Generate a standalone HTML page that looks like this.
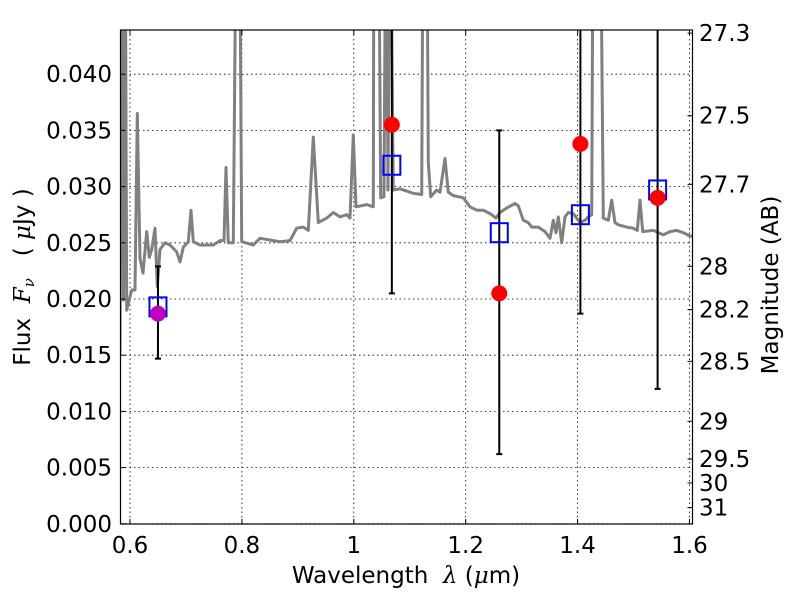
<!DOCTYPE html>
<html><head><meta charset="utf-8"><style>
body{margin:0;background:#fff;}
svg{display:block;font-family:"DejaVu Sans","Liberation Sans",sans-serif;}
text{white-space:pre;}
</style></head><body>
<svg id="chart" width="800" height="600" viewBox="0 0 800 600">
<defs><clipPath id="clip"><rect x="120.5" y="30" width="572" height="494"/></clipPath></defs>
<rect width="800" height="600" fill="#fff"/>
<g id="grid"></g>
<g id="spec" clip-path="url(#clip)"></g>
<g id="marks" clip-path="url(#clip)"></g>
<rect x="120.5" y="30" width="572" height="494" fill="none" stroke="#000" stroke-width="1.2"/>
<g id="axes"></g>
<text x="406" y="583" font-size="23" text-anchor="middle" xml:space="preserve">Wavelength  <tspan font-style="italic" font-family="'DejaVu Serif',serif">λ</tspan> (<tspan font-style="italic" font-family="'DejaVu Serif',serif">μ</tspan>m)</text>
<text transform="translate(30,277) rotate(-90)" font-size="23" text-anchor="middle" xml:space="preserve">Flux  <tspan font-style="italic" font-family="'DejaVu Serif',serif">F<tspan font-size="15" dy="4">ν</tspan></tspan><tspan dy="-4">   ( </tspan><tspan font-style="italic" font-family="'DejaVu Serif',serif">μ</tspan>Jy )</text>
<text transform="translate(778,285) rotate(-90)" font-size="23" text-anchor="middle">Magnitude (AB)</text>
</svg>
<script>
const specWave=[0.5821,0.5857,0.5884,0.5911,0.5941,0.6030,0.6089,0.6130,0.6179,0.6232,0.6298,0.6345,0.6388,0.6447,0.6488,0.6536,0.6626,0.6715,0.6835,0.6894,0.6953,0.7042,0.7090,0.7131,0.7251,0.7489,0.7609,0.7680,0.7716,0.7757,0.7846,0.7907,0.7953,0.7996,0.8204,0.8323,0.8561,0.8681,0.8860,0.8979,0.9097,0.9187,0.9276,0.9366,0.9516,0.9634,0.9753,0.9873,0.9932,0.9991,1.0040,1.0231,1.0349,1.0361,1.0438,1.0481,1.0540,1.0576,1.0612,1.0647,1.0706,1.0826,1.1063,1.1213,1.1242,1.1302,1.1331,1.1374,1.1481,1.1540,1.1630,1.1689,1.1778,1.1957,1.2077,1.2196,1.2315,1.2434,1.2541,1.2613,1.2733,1.2881,1.2940,1.3029,1.3119,1.3179,1.3298,1.3418,1.3507,1.3566,1.3614,1.3655,1.3716,1.3775,1.3834,1.3923,1.4043,1.4132,1.4191,1.4252,1.4281,1.4400,1.4459,1.4549,1.4609,1.4668,1.4727,1.4877,1.4996,1.5067,1.5115,1.5163,1.5353,1.5532,1.5651,1.5771,1.5890,1.6009,1.6063];
const specFlux=[0.0150,0.06,0.0199,0.06,0.0190,0.0208,0.0208,0.0365,0.0236,0.0223,0.0260,0.0237,0.0244,0.0263,0.0211,0.0244,0.0250,0.0248,0.0242,0.0233,0.0246,0.0251,0.0279,0.0251,0.0248,0.0248,0.0252,0.0252,0.0317,0.0250,0.0250,0.06,0.06,0.0251,0.0248,0.0254,0.0252,0.0251,0.0252,0.0263,0.0264,0.0261,0.0344,0.0268,0.0272,0.0277,0.0273,0.0275,0.0272,0.0346,0.0282,0.0284,0.0282,0.06,0.06,0.0290,0.0291,0.06,0.0297,0.06,0.0297,0.0298,0.0294,0.0293,0.06,0.06,0.0321,0.0291,0.0297,0.0295,0.0325,0.0295,0.0292,0.0290,0.0282,0.0279,0.0279,0.0276,0.0272,0.0277,0.0281,0.0285,0.0283,0.0270,0.0268,0.0264,0.0264,0.0260,0.0254,0.0270,0.0259,0.0273,0.0250,0.0273,0.0277,0.0276,0.0268,0.0270,0.0273,0.0275,0.06,0.06,0.0272,0.0270,0.0288,0.0268,0.0266,0.0264,0.0263,0.0261,0.0288,0.0260,0.0261,0.0257,0.0260,0.0261,0.0259,0.0256,0.0256];
const bandWave=[0.650,1.068,1.260,1.405,1.543];
const obsFlux=[0.0187,0.0355,0.0205,0.0338,0.0290];
const errLow=[0.0147,0.0205,0.0062,0.0187,0.0120];
const errHigh=[0.0229,0.0505,0.0350,0.0490,0.0460];
const modelFlux=[0.0193,0.0319,0.0259,0.0275,0.0297];
const obsColors=['#bf00bf','red','red','red','red'];
const xTicks=[0.6,0.8,1.0,1.2,1.4,1.6];
const xTickLabels=['0.6','0.8','1','1.2','1.4','1.6'];
const yTicks=[0,0.005,0.01,0.015,0.02,0.025,0.03,0.035,0.04];
const yTickLabels=['0.000','0.005','0.010','0.015','0.020','0.025','0.030','0.035','0.040'];
const magTicks=[27.3,27.5,27.7,28,28.2,28.5,29,29.5,30,31];
const magTickLabels=['27.3','27.5','27.7','28','28.2','28.5','29','29.5','30','31'];

const NS='http://www.w3.org/2000/svg';
const X=v=>130+(v-0.6)*559.5;
const Y=v=>523.8-v*11240;
const magToFlux=m=>Math.pow(10,(23.9-m)/2.5);
function el(tag,attrs,parent){const e=document.createElementNS(NS,tag);for(const k in attrs)e.setAttribute(k,attrs[k]);parent.appendChild(e);return e;}
const grid=document.getElementById('grid'),axes=document.getElementById('axes'),spec=document.getElementById('spec'),marks=document.getElementById('marks');

xTicks.forEach((t,i)=>{
  const x=X(t);
  const g=el('line',{x1:x,x2:x,y1:30,y2:524,stroke:'#000','stroke-width':0.8,'stroke-dasharray':'1.5,3'},grid);
  
  
  const tk=el('path',{d:`M${x},524v-5M${x},30v5`,stroke:'#000','stroke-width':1},axes);
  
  
  const lb=el('text',{x:x,y:553,'font-size':23,'text-anchor':'middle'},axes);
  lb.textContent=xTickLabels[i];
  
  
});
yTicks.forEach((t,i)=>{
  const y=Y(t);
  const g=el('line',{x1:120.5,x2:692.5,y1:y,y2:y,stroke:'#000','stroke-width':0.8,'stroke-dasharray':'1.5,3'},grid);
  
  
  const tk=el('path',{d:`M120.5,${y}h5`,stroke:'#000','stroke-width':1},axes);
  
  
  const lb=el('text',{x:112,y:y+8,'font-size':23,'text-anchor':'end'},axes);
  lb.textContent=yTickLabels[i];
  
  
});
magTicks.forEach((m,i)=>{
  const y=Y(magToFlux(m));
  const tk=el('path',{d:`M692.5,${y}h-5`,stroke:'#000','stroke-width':1},axes);
  
  
  const lb=el('text',{x:699,y:y+8,'font-size':23},axes);
  lb.textContent=magTickLabels[i];
  
  
});

const d=specWave.map((w,i)=>(i?'L':'M')+X(w).toFixed(1)+','+Y(specFlux[i]).toFixed(1)).join('');
const sp=el('path',{d:d,fill:'none',stroke:'#808080','stroke-width':3,'stroke-linejoin':'round'},spec);



bandWave.forEach((w,i)=>{
  const x=X(w);
  const eb=el('path',{d:`M${x},${Y(errLow[i])}V${Y(errHigh[i])}M${x-3},${Y(errLow[i])}h6M${x-3},${Y(errHigh[i])}h6`,stroke:'#000','stroke-width':2},marks);
  
  
  const sq=el('rect',{x:x-8.5,y:Y(modelFlux[i])-9.5,width:17,height:19,fill:'none',stroke:'#0000ff','stroke-width':2},marks);
  
  
  const c=el('circle',{cx:x,cy:Y(obsFlux[i]),r:8,fill:obsColors[i]},marks);
  
  
});
</script>
</body></html>
